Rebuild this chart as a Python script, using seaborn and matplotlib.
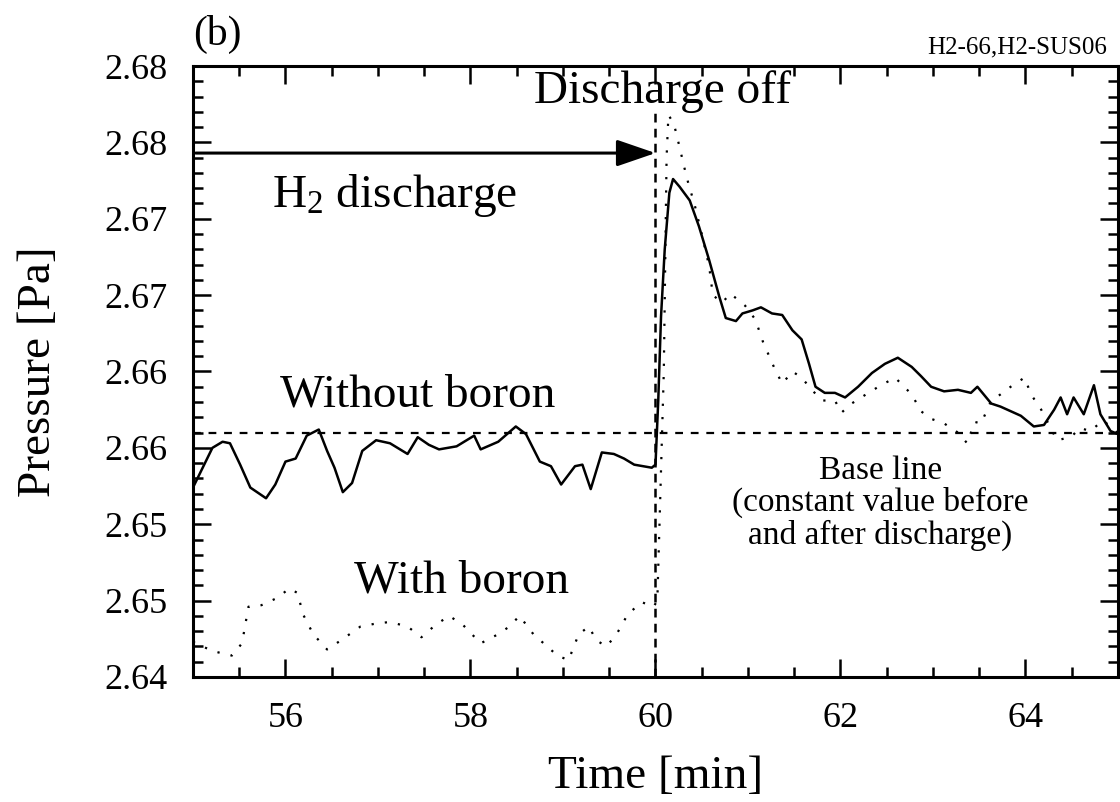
import matplotlib
matplotlib.use("Agg")
import matplotlib.pyplot as plt
from matplotlib.ticker import MultipleLocator
import pandas as pd
import seaborn as sns

# pressure without boron (solid) and with boron (dotted)
time_without = [55.00, 55.21, 55.32, 55.40, 55.51, 55.62, 55.79, 55.89, 56.00, 56.11,
                56.23, 56.36, 56.45, 56.53, 56.62, 56.72, 56.83, 56.98, 57.13, 57.32,
                57.43, 57.55, 57.66, 57.85, 58.04, 58.11, 58.30, 58.49, 58.60, 58.75,
                58.87, 58.98, 59.13, 59.21, 59.30, 59.42, 59.55, 59.66, 59.77, 59.96,
                60.00, 60.03, 60.06, 60.10, 60.15, 60.19, 60.26, 60.37, 60.47, 60.58,
                60.69, 60.76, 60.87, 60.94, 61.05, 61.14, 61.26, 61.37, 61.48, 61.58,
                61.66, 61.73, 61.83, 61.94, 62.05, 62.19, 62.34, 62.48, 62.62, 62.77,
                62.87, 62.98, 63.12, 63.27, 63.41, 63.48, 63.63, 63.73, 63.84, 63.95,
                64.09, 64.20, 64.31, 64.38, 64.45, 64.52, 64.63, 64.74, 64.81, 64.92,
                65.00]
pressure_without = [2.6524, 2.6550, 2.6554, 2.6553, 2.6539, 2.6524, 2.6517, 2.6526, 2.6541, 2.6543,
                    2.6558, 2.6562, 2.6548, 2.6537, 2.6521, 2.6527, 2.6548, 2.6555, 2.6553, 2.6546,
                    2.6557, 2.6552, 2.6549, 2.6551, 2.6558, 2.6549, 2.6554, 2.6564, 2.6559, 2.6541,
                    2.6538, 2.6526, 2.6538, 2.6539, 2.6523, 2.6547, 2.6546, 2.6543, 2.6539, 2.6537,
                    2.6539, 2.6581, 2.6636, 2.6680, 2.6717, 2.6726, 2.6721, 2.6712, 2.6695, 2.6673,
                    2.6649, 2.6635, 2.6633, 2.6638, 2.6640, 2.6642, 2.6638, 2.6637, 2.6627, 2.6621,
                    2.6605, 2.6590, 2.6586, 2.6586, 2.6583, 2.6590, 2.6599, 2.6605, 2.6609, 2.6603,
                    2.6597, 2.6590, 2.6587, 2.6588, 2.6586, 2.6590, 2.6579, 2.6577, 2.6574, 2.6571,
                    2.6564, 2.6565, 2.6575, 2.6583, 2.6572, 2.6583, 2.6572, 2.6591, 2.6572, 2.6561,
                    2.6559]

time_with = [55.00, 55.21, 55.42, 55.53, 55.60, 55.74, 55.92, 56.04, 56.13, 56.19,
             56.30, 56.45, 56.60, 56.81, 56.98, 57.13, 57.32, 57.47, 57.62, 57.77,
             57.92, 58.11, 58.30, 58.42, 58.53, 58.68, 58.81, 58.94, 59.06, 59.17,
             59.28, 59.36, 59.47, 59.58, 59.70, 59.85, 59.98, 60.02, 60.09, 60.12,
             60.14, 60.20, 60.26, 60.31, 60.36, 60.42, 60.50, 60.58, 60.62, 60.72,
             60.81, 60.97, 61.08, 61.17, 61.23, 61.28, 61.37, 61.48, 61.58, 61.69,
             61.80, 61.94, 62.01, 62.12, 62.25, 62.41, 62.59, 62.77, 62.87, 62.98,
             63.12, 63.27, 63.37, 63.45, 63.52, 63.63, 63.73, 63.84, 63.99, 64.06,
             64.17, 64.34, 64.49, 64.59, 64.70, 64.84, 64.99]
pressure_with = [2.6423, 2.6417, 2.6414, 2.6422, 2.6446, 2.6447, 2.6452, 2.6458, 2.6455, 2.6441,
                 2.6428, 2.6418, 2.6424, 2.6433, 2.6435, 2.6436, 2.6433, 2.6426, 2.6434, 2.6440,
                 2.6434, 2.6422, 2.6428, 2.6433, 2.6440, 2.6428, 2.6421, 2.6414, 2.6411, 2.6428,
                 2.6433, 2.6424, 2.6420, 2.6428, 2.6441, 2.6449, 2.6446, 2.6450, 2.6600, 2.6740,
                 2.6768, 2.6762, 2.6747, 2.6734, 2.6722, 2.6710, 2.6690, 2.6669, 2.6650, 2.6645,
                 2.6651, 2.6643, 2.6634, 2.6618, 2.6610, 2.6603, 2.6592, 2.6600, 2.6596, 2.6588,
                 2.6581, 2.6581, 2.6573, 2.6579, 2.6584, 2.6590, 2.6596, 2.6585, 2.6574, 2.6569,
                 2.6566, 2.6560, 2.6553, 2.6567, 2.6566, 2.6581, 2.6585, 2.6590, 2.6596, 2.6585,
                 2.6575, 2.6555, 2.6557, 2.6563, 2.6561, 2.6568, 2.6560]

x_ticks = [56, 58, 60, 62, 64]
y_ticks = [2.640, 2.645, 2.650, 2.655, 2.660, 2.665, 2.670, 2.675, 2.680]
y_tick_labels = ["2.64", "2.65", "2.65", "2.66", "2.66", "2.67", "2.67", "2.68", "2.68"]
baseline_pressure = 2.656
discharge_off_time = 60.0

sns.set_style("ticks")
plt.rcParams['font.family'] = ['Liberation Serif', 'DejaVu Serif']
plt.rcParams['mathtext.fontset'] = 'custom'
plt.rcParams['mathtext.rm'] = 'Liberation Serif'
plt.rcParams['mathtext.it'] = 'Liberation Serif:italic'
plt.rcParams['mathtext.default'] = 'regular'
for key in ['text.color', 'axes.labelcolor', 'xtick.color', 'ytick.color', 'axes.edgecolor']:
    plt.rcParams[key] = 'black'

fig, ax = plt.subplots(figsize=(11.2, 8.02), dpi=100)
fig.subplots_adjust(left=0.1723, right=0.9982, bottom=0.1559, top=0.9177)

df_without = pd.DataFrame({'time': time_without, 'pressure': pressure_without})
df_with = pd.DataFrame({'time': time_with, 'pressure': pressure_with})

sns.lineplot(data=df_without, x='time', y='pressure', ax=ax, color='black',
             linewidth=1.8, sort=False, estimator=None)
sns.lineplot(data=df_with, x='time', y='pressure', ax=ax, color='black',
             linewidth=1.6, linestyle=(0, (1, 5)), sort=False, estimator=None)

ax.axhline(baseline_pressure, color='black', linewidth=1.6, linestyle=(0, (3.5, 3.5)))
ax.vlines(discharge_off_time, 2.640, 2.677, colors='black', linewidth=1.8,
          linestyles=[(0, (3.5, 2.5))])

ax.annotate('', xy=(discharge_off_time, 2.6743), xytext=(55.03, 2.6743),
            arrowprops=dict(arrowstyle='-|>,head_length=1.6,head_width=0.55',
                            mutation_scale=15, color='black', lw=2.2,
                            shrinkA=0, shrinkB=0))

ax.text(60.08, 2.6776, 'Discharge off', fontsize=34, ha='center', va='baseline')
ax.text(55.85, 2.6708, 'H$_2$ discharge', fontsize=34, ha='left', va='baseline')
ax.text(57.43, 2.6577, 'Without boron', fontsize=34, ha='center', va='baseline')
ax.text(57.90, 2.6455, 'With boron', fontsize=34, ha='center', va='baseline')
ax.text(62.43, 2.6514, 'Base line\n(constant value before\nand after discharge)',
        fontsize=24, ha='center', va='center', multialignment='center', linespacing=1.05)

fig.text(0.172, 1 - 45 / 802, '(b)', fontsize=30, ha='left', va='baseline')
fig.text(1107 / 1120, 1 - 53 / 802, 'H2-66,H2-SUS06', fontsize=18, ha='right', va='baseline')

ax.set_xlim(55, 65)
ax.set_ylim(2.640, 2.680)
ax.set_xticks(x_ticks)
ax.set_yticks(y_ticks, labels=y_tick_labels)
ax.xaxis.set_minor_locator(MultipleLocator(0.5))
ax.yaxis.set_minor_locator(MultipleLocator(0.001))
ax.tick_params(which='both', direction='in', top=True, right=True, width=1.8,
               color='black', labelcolor='black', labelsize=26, pad=18)
ax.tick_params(which='major', length=13)
ax.tick_params(which='minor', length=7)
ax.set_xlabel('Time [min]', fontsize=34, labelpad=15)
ax.set_ylabel('Pressure [Pa]', fontsize=34, labelpad=32)
for spine in ax.spines.values():
    spine.set_linewidth(2.2)
    spine.set_color('black')
ax.grid(False)

fig.savefig('out.png', dpi=100)
